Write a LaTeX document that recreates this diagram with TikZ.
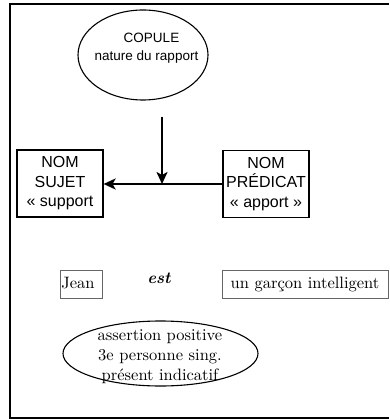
\documentclass[tikz,border=0pt]{standalone}
\usepackage{fontspec}
\setmainfont{lmroman10-regular.otf}[BoldFont=lmroman10-bold.otf, ItalicFont=lmroman10-italic.otf, BoldItalicFont=lmroman10-bolditalic.otf]
\setsansfont{Liberation Sans}
\usetikzlibrary{shapes.geometric,arrows.meta}
\begin{document}
\begin{tikzpicture}[x=1pt,y=-1pt,
  frame/.style={line width=2pt, line cap=butt},
  oval/.style={draw, ellipse, line width=1.1pt, inner sep=0pt},
  sanstxt/.style={font=\sffamily\fontsize{13.5}{18}\selectfont, align=center, inner sep=0pt},
  nombox/.style={draw, line width=1.2pt, minimum width=86pt, minimum height=67pt, inner sep=0pt,
    font=\sffamily\fontsize{16}{19.5}\selectfont, align=center},
  wordbox/.style={draw=black!60, line width=0.8pt, minimum height=28pt,
    font=\fontsize{16.5}{20}\selectfont, text height=11.5pt, text depth=3.2pt},
  seriftxt/.style={font=\fontsize{16.5}{20}\selectfont, align=center, inner sep=0pt},
  arr/.style={line width=2.2pt, -{Stealth[length=12pt,width=11pt,inset=3pt]}}]
\useasboundingbox (0,0) rectangle (389,419);
% outer frame (open on the right)
\draw[frame] (389,4) -- (9.5,4) -- (9.5,417.8) -- (389,417.8);
% copule
\node[oval, minimum width=130pt, minimum height=90pt] (copule) at (143,55) {};
\node[sanstxt] (copuletxt) at (146.5,48) {\hspace*{10pt}COPULE\\nature du rapport};
% noun boxes
\node[nombox] (sujet) at (60,183.5) {NOM\\SUJET\\« support};
\node[nombox] (pred) at (266,184) {NOM\\PRÉDICAT\\« apport »};
% arrows
\coordinate (vtop) at (162,117);
\draw[arr] (pred.west) -- (pred.west -| sujet.east);
\draw[arr] (vtop) -- (vtop |- pred.west);
% sentence
\node[wordbox, anchor=west, text width=40pt, align=left, inner xsep=1pt] (jean) at (60,284) {Jean};
\node[seriftxt, font=\fontsize{16.5}{20}\selectfont\bfseries\itshape] (est) at (159,278) {est};
\node[wordbox, minimum width=166pt, inner xsep=0pt] (garcon) at (305,284) {un garçon intelligent};
% bottom ellipse
\node[oval, minimum width=195pt, minimum height=65pt] (assert) at (160.5,353.5) {};
\node[seriftxt] (asserttxt) at (160,357) {assertion positive\\3e personne sing.\\présent indicatif};
\end{tikzpicture}
\end{document}
